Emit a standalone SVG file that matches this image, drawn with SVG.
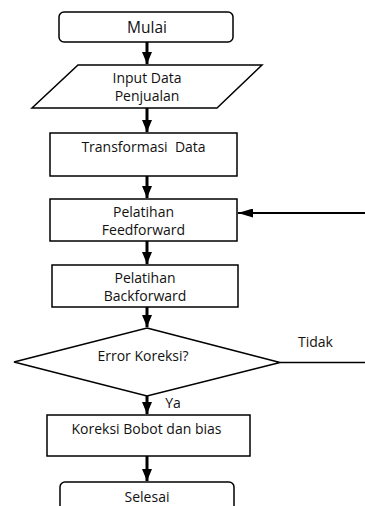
<svg xmlns="http://www.w3.org/2000/svg" width="365" height="506" viewBox="0 0 365 506">
<defs>
<marker id="ah" viewBox="0 0 12 10" refX="12" refY="5" markerWidth="12" markerHeight="10" markerUnits="userSpaceOnUse" orient="auto">
<path d="M0,0 L12,5 L0,10 Z" fill="#000"/>
</marker>
<marker id="ahh" viewBox="0 0 15 9" refX="15" refY="4.5" markerWidth="15" markerHeight="9" markerUnits="userSpaceOnUse" orient="auto">
<path d="M0,0 L15,4.5 L0,9 Z" fill="#000"/>
</marker>
</defs>
<style>
.box{fill:#fff;stroke:#000;stroke-width:1.5}
.t{font-family:"Open Sans","Noto Sans",sans-serif;font-size:14px;fill:#111;text-anchor:middle}
.v{stroke:#000;stroke-width:3;fill:none;marker-end:url(#ah)}
.h{stroke:#000;stroke-width:1.8;fill:none}
</style>
<rect width="365" height="506" fill="#fff"/>
<g id="connectors">
<line class="v" x1="147" y1="42" x2="147" y2="64"/>
<line class="v" x1="147" y1="108" x2="147" y2="132"/>
<line class="v" x1="147" y1="176" x2="147" y2="198"/>
<line class="v" x1="147" y1="241" x2="147" y2="264"/>
<line class="v" x1="147" y1="307" x2="147" y2="327"/>
<line class="v" x1="147" y1="396" x2="147" y2="414"/>
<line class="v" x1="147" y1="456" x2="147" y2="481"/>
<line class="h" x1="365" y1="213" x2="238" y2="213" style="marker-end:url(#ahh)"/>
<line class="h" x1="280" y1="362.5" x2="365" y2="362.5" style="stroke-width:1.3"/>
<text class="t" x="315.5" y="347">Tidak</text>
<text class="t" x="173" y="408">Ya</text>
</g>
<g id="mulai">
<rect class="box" x="59" y="12" width="174" height="30" rx="5"/>
<text class="t" x="147" y="33" style="font-size:15.5px">Mulai</text>
</g>
<g id="input">
<polygon class="box" points="78,65 262,65 217,108 32,108"/>
<text class="t" x="147" y="83">Input Data</text>
<text class="t" x="147" y="101">Penjualan</text>
</g>
<g id="transformasi">
<rect class="box" x="50" y="133" width="187" height="43"/>
<text class="t" x="143.5" y="152" style="white-space:pre" xml:space="preserve">Transformasi  Data</text>
</g>
<g id="feedforward">
<rect class="box" x="50" y="199" width="187" height="42"/>
<text class="t" x="143.5" y="216.5">Pelatihan</text>
<text class="t" x="143.5" y="234.5">Feedforward</text>
</g>
<g id="backforward">
<rect class="box" x="52" y="265" width="186" height="42"/>
<text class="t" x="145" y="283">Pelatihan</text>
<text class="t" x="145" y="301">Backforward</text>
</g>
<g id="error">
<polygon class="box" points="147,328 280,362.5 147,396 14,362"/>
<text class="t" x="143" y="361">Error Koreksi?</text>
</g>
<g id="koreksi">
<rect class="box" x="47" y="415" width="203" height="41"/>
<text class="t" x="146.5" y="434">Koreksi Bobot dan bias</text>
</g>
<g id="selesai">
<rect class="box" x="60" y="482" width="174" height="30" rx="5"/>
<text class="t" x="147" y="502">Selesai</text>
</g>
</svg>
